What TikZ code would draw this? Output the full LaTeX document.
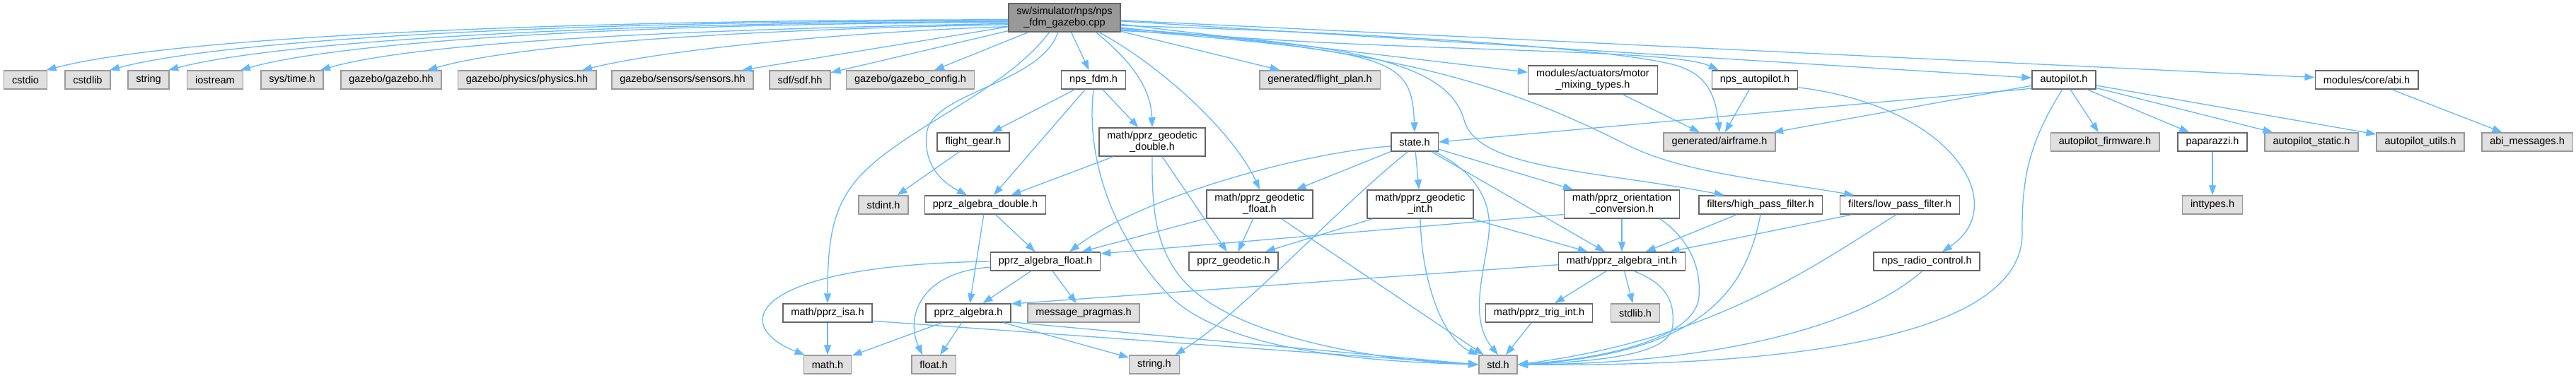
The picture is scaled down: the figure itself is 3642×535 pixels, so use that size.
\documentclass[tikz,border=0pt]{standalone}
\usepackage{fontspec}
\setmainfont{Liberation Sans}
\usetikzlibrary{arrows.meta}
\definecolor{edgeblue}{HTML}{63B8FF}
\definecolor{extfill}{HTML}{E0E0E0}
\definecolor{extline}{HTML}{999999}
\definecolor{locline}{HTML}{666666}
\begin{document}
\begin{tikzpicture}[x=1pt,y=1pt,>={Triangle[length=14pt,width=10pt]},every node/.style={font=\fontsize{14.5}{16}\selectfont,align=center,inner xsep=11.5pt,inner ysep=2pt,minimum height=26pt,line width=1.5pt},ext/.style={draw=extline,fill=extfill},loc/.style={draw=locline,fill=white},root/.style={draw=locline,fill=extline},two/.style={minimum height=40pt},dep/.style={->,color=edgeblue,line width=1.3pt}]
\useasboundingbox (0,0) rectangle (3642,-535);
\node[root,two] (main) at (1505,-25) {sw/simulator/nps/nps\\\_fdm\_gazebo.cpp};
\node[ext] (cstdio) at (36,-113) {cstdio};\node[ext] (cstdlib) at (124,-113) {cstdlib};\node[ext] (strng) at (210,-113) {string};\node[ext] (iostrm) at (304,-113) {iostream};
\node[ext] (systime) at (413,-113) {sys/time.h};\node[ext] (gzb) at (553,-113) {gazebo/gazebo.hh};\node[ext] (gzbphys) at (745,-113) {gazebo/physics/physics.hh};
\node[ext] (gzbsens) at (965,-113) {gazebo/sensors/sensors.hh};\node[ext] (sdf) at (1131,-113) {sdf/sdf.hh};\node[ext] (gzbcfg) at (1287,-113) {gazebo/gazebo\_config.h};
\node[loc] (npsfdm) at (1546,-113) {nps\_fdm.h};\node[ext] (fplan) at (1866,-113) {generated/flight\_plan.h};\node[loc,two] (motor) at (2252,-113) {modules/actuators/motor\\\_mixing\_types.h};
\node[loc] (npsap) at (2481,-113) {nps\_autopilot.h};\node[loc] (autop) at (2918,-113) {autopilot.h};\node[loc] (abi) at (3346,-113) {modules/core/abi.h};
\node[loc] (fgear) at (1376,-201) {flight\_gear.h};\node[loc,two] (geodbl) at (1629,-201) {math/pprz\_geodetic\\\_double.h};\node[loc] (state) at (2000,-201) {state.h};
\node[ext] (airframe) at (2431,-201) {generated/airframe.h};\node[ext] (apfw) at (2976,-201) {autopilot\_firmware.h};\node[loc] (pprz) at (3128,-201) {paparazzi.h};
\node[ext] (apstatic) at (3268,-201) {autopilot\_static.h};\node[ext] (aputils) at (3422,-201) {autopilot\_utils.h};\node[ext] (abimsg) at (3573,-201) {abi\_messages.h};
\node[ext] (stdint) at (1249,-290) {stdint.h};\node[loc] (algdbl) at (1393,-290) {pprz\_algebra\_double.h};\node[loc,two] (geoflt) at (1781,-289) {math/pprz\_geodetic\\\_float.h};
\node[loc,two] (geoint) at (2008,-289) {math/pprz\_geodetic\\\_int.h};\node[loc,two] (orient) at (2293,-289) {math/pprz\_orientation\\\_conversion.h};
\node[loc] (hpf) at (2489,-290) {filters/high\_pass\_filter.h};\node[loc] (lpf) at (2686,-290) {filters/low\_pass\_filter.h};\node[ext] (inttypes) at (3128,-290) {inttypes.h};
\node[loc] (algflt) at (1478,-370) {pprz\_algebra\_float.h};\node[loc] (geod) at (1744,-370) {pprz\_geodetic.h};\node[loc] (algint) at (2293,-370) {math/pprz\_algebra\_int.h};\node[loc] (npsrc) at (2724,-370) {nps\_radio\_control.h};
\node[loc] (isa) at (1170,-443) {math/pprz\_isa.h};\node[loc] (alg) at (1369,-443) {pprz\_algebra.h};\node[ext] (pragmas) at (1532,-443) {message\_pragmas.h};\node[loc] (trig) at (2176,-443) {math/pprz\_trig\_int.h};\node[ext] (stdlib) at (2312,-443) {stdlib.h};
\node[ext] (mathh) at (1170,-516) {math.h};\node[ext] (floath) at (1320,-516) {float.h};\node[ext] (stringh) at (1632,-516) {string.h};\node[ext] (stdh) at (2118,-516) {std.h};
% includes of the simulator file
\draw[dep] (main.182) .. controls (825,-28) and (252,-50) .. (cstdio.25);\draw[dep] (main.183) .. controls (865,-29) and (332,-52) .. (cstdlib.24);
\draw[dep] (main.184) .. controls (905,-31) and (406,-55) .. (strng.26);\draw[dep] (main.185) .. controls (955,-32) and (497,-55) .. (iostrm.21);
\draw[dep] (main.186) .. controls (1005,-41) and (600,-57) .. (systime.19);\draw[dep] (main.187) .. controls (1095,-41) and (746,-59) .. (gzb.15);
\draw[dep] (main.189) .. controls (1205,-45) and (945,-69) .. (gzbphys.10);
\draw[dep] (main)--(gzbsens);\draw[dep] (main)--(sdf);\draw[dep] (main)--(gzbcfg);\draw[dep] (main)--(npsfdm);\draw[dep] (main)--(fplan);\draw[dep] (main)--(motor);\draw[dep] (main)--(autop);\draw[dep] (main)--(abi);
\draw[dep] (main.-10) .. controls (1934,-76) and (2360,-66) .. (npsap.165);
\draw[dep] (main.-8) .. controls (1900,-45) and (2250,-65) .. (2360,-90) .. controls (2410,-101) and (2425,-130) .. (airframe.north);
\draw[dep] (main.-12) .. controls (1965,-75) and (1996,-78) .. (state.north);
\draw[dep] (main.-25) .. controls (1595,-83) and (1627,-121) .. (geodbl.north);
\draw[dep] (main.-23) .. controls (1640,-92) and (1744,-187) .. (geoflt.north);
\draw[dep] (main.-114) .. controls (1470,-120) and (1315,-130) .. (1310,-190) .. controls (1305,-240) and (1340,-262) .. (algdbl.152);
\draw[dep] (main.-136) .. controls (1420,-130) and (1280,-180) .. (1215,-250) .. controls (1180,-290) and (1170,-330) .. (isa.north);
\draw[dep] (main.-13) .. controls (1950,-60) and (2050,-100) .. (2070,-170) .. controls (2090,-240) and (2250,-240) .. (hpf.165);
\draw[dep] (main.-11) .. controls (2000,-70) and (2150,-130) .. (2300,-205) .. controls (2380,-245) and (2500,-255) .. (lpf.168);
% second level
\draw[dep] (npsfdm)--(fgear);\draw[dep] (npsfdm)--(algdbl);\draw[dep] (npsfdm)--(geodbl);
\draw[dep] (npsfdm.south) .. controls (1535,-220) and (1570,-330) .. (1650,-415) .. controls (1730,-500) and (1950,-512) .. (stdh.west);
\draw[dep] (geodbl)--(algdbl);\draw[dep] (geodbl)--(geod);
\draw[dep] (geodbl.south) .. controls (1628,-330) and (1640,-400) .. (1750,-450) .. controls (1850,-495) and (1990,-512) .. (stdh.west);
\draw[dep] (fgear)--(stdint);\draw[dep] (algdbl)--(algflt);\draw[dep] (algdbl)--(alg);
\draw[dep] (algflt.west) .. controls (1060,-375) and (1030,-460) .. (mathh.157);\draw[dep] (algflt.186) .. controls (1300,-385) and (1280,-450) .. (floath.139);
\draw[dep] (algflt)--(alg);\draw[dep] (algflt)--(pragmas);
\draw[dep] (alg)--(mathh);\draw[dep] (alg)--(floath);\draw[dep] (alg)--(stringh);\draw[dep] (alg.-12)--(stdh.west);
\draw[dep] (isa)--(mathh);\draw[dep] (isa.-10)--(stdh.west);
\draw[dep] (geoflt)--(algflt);\draw[dep] (geoflt)--(geod);\draw[dep] (geoflt)--(stdh);
\draw[dep] (state.190) .. controls (1850,-215) and (1620,-275) .. (algflt.22);
\draw[dep] (state)--(geoflt);\draw[dep] (state)--(geoint);\draw[dep] (state)--(orient);\draw[dep] (state)--(algint);
\draw[dep] (state.-125) .. controls (1890,-295) and (1760,-440) .. (stringh.25);
\draw[dep] (state.-26) .. controls (2080,-240) and (2110,-280) .. (2105,-330) .. controls (2100,-380) and (2075,-450) .. (stdh.north);
\draw[dep] (geoint)--(geod);\draw[dep] (geoint)--(algint);
\draw[dep] (geoint.south) .. controls (2010,-400) and (2040,-480) .. (stdh.north west);
\draw[dep] (orient.190)--(algflt.8);\draw[dep] (orient)--(algint);
\draw[dep] (orient.-21) .. controls (2390,-340) and (2405,-380) .. (2402,-420) .. controls (2398,-470) and (2300,-505) .. (stdh.east);
\draw[dep] (algint.183)--(alg.12);\draw[dep] (algint)--(trig);\draw[dep] (algint)--(stdlib);\draw[dep] (trig)--(stdh);
\draw[dep] (algint.-38) .. controls (2350,-400) and (2368,-420) .. (2365,-460) .. controls (2362,-495) and (2300,-510) .. (stdh.east);
\draw[dep] (hpf)--(algint);\draw[dep] (hpf.south) .. controls (2470,-400) and (2420,-500) .. (stdh.east);
\draw[dep] (lpf)--(algint);\draw[dep] (lpf.-110) .. controls (2560,-380) and (2420,-480) .. (stdh.east);
\draw[dep] (npsrc.-115) .. controls (2620,-470) and (2400,-515) .. (stdh.east);
\draw[dep] (autop.-100) .. controls (2870,-200) and (2858,-250) .. (2859,-330) .. controls (2860,-460) and (2600,-520) .. (stdh.east);
\draw[dep] (npsap)--(airframe);\draw[dep] (npsap.-10) .. controls (2760,-150) and (2845,-290) .. (npsrc.32);\draw[dep] (motor)--(airframe);
\draw[dep] (autop.195)--(state.east);\draw[dep] (autop)--(airframe);
\draw[dep] (autop)--(apfw);\draw[dep] (autop)--(pprz);\draw[dep] (autop)--(apstatic);\draw[dep] (autop)--(aputils);
\draw[dep] (pprz)--(inttypes);\draw[dep] (abi)--(abimsg);
\end{tikzpicture}
\end{document}
